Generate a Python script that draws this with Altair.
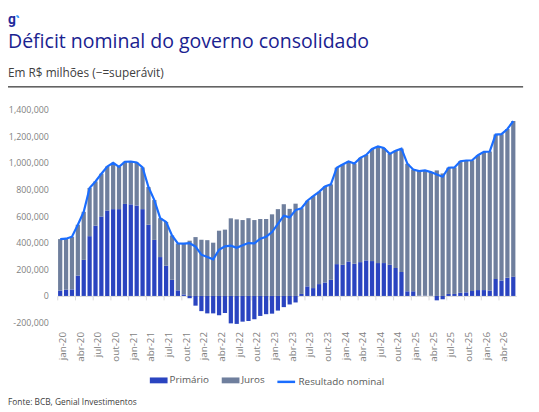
import altair as alt
import pandas as pd

# ---------------- data (R$ milhões, acumulado 12 meses) ----------------
nomes_meses = ["jan", "fev", "mar", "abr", "mai", "jun", "jul", "ago", "set", "out", "nov", "dez"]
meses = [f"{m}-{a}" for a in range(20, 27) for m in nomes_meses][:78]

primario = [
    41000, 47000, 49000, 153000, 271000, 449000, 528000, 597000, 641000, 652000, 652000, 691000,
    688000, 679000, 652000, 535000, 421000, 292000, 227000, 121000, 42000, 11000, -17000, -73000,
    -114000, -131000, -131000, -145000, -128000, -206000, -210000, -193000, -188000, -175000, -150000, -137000,
    -133000, -110000, -84000, -64000, -49000, 15000, 72000, 59000, 89000, 101000, 121000, 239000,
    234000, 259000, 242000, 254000, 267000, 262000, 247000, 247000, 234000, 210000, 180000, 35000,
    35000, 3000, 2000, 1000, -33000, -25000, 15000, 15000, 24000, 27000, 37000, 44000,
    44000, 41000, 128000, 116000, 136000, 145000,
]

juros = [
    386000, 383000, 396000, 382000, 361000, 362000, 332000, 321000, 331000, 348000, 318000, 317000,
    322000, 323000, 313000, 283000, 299000, 292000, 329000, 333000, 352000, 382000, 415000, 442000,
    422000, 419000, 400000, 490000, 498000, 583000, 575000, 570000, 584000, 570000, 578000, 578000,
    613000, 652000, 689000, 654000, 693000, 644000, 643000, 691000, 693000, 722000, 717000, 724000,
    753000, 751000, 752000, 783000, 792000, 842000, 876000, 864000, 833000, 881000, 926000, 958000,
    915000, 935000, 941000, 929000, 943000, 920000, 948000, 950000, 988000, 990000, 982000, 1013000,
    1038000, 1044000, 1084000, 1099000, 1118000, 1168000,
]

nominal = [
    427000, 430000, 445000, 535000, 632000, 811000, 860000, 918000, 972000, 1000000, 970000, 1008000,
    1010000, 1002000, 965000, 818000, 720000, 584000, 556000, 454000, 394000, 393000, 396000, 370000,
    310000, 292000, 275000, 347000, 372000, 378000, 362000, 380000, 397000, 395000, 430000, 445000,
    480000, 542000, 603000, 590000, 645000, 659000, 715000, 750000, 782000, 823000, 838000, 963000,
    987000, 1010000, 994000, 1037000, 1059000, 1104000, 1123000, 1111000, 1067000, 1091000, 1106000, 993000,
    950000, 938000, 943000, 930000, 912000, 895000, 963000, 965000, 1012000, 1017000, 1019000, 1057000,
    1082000, 1085000, 1212000, 1215000, 1254000, 1313000,
]

series_barras = ["Primário", "Juros"]
serie_linha = "Resultado nominal"
y_ticks = [-200000, 0, 200000, 400000, 600000, 800000, 1000000, 1200000, 1400000]

titulo = "Déficit nominal do governo consolidado"
subtitulo = "Em R$ milhões (\u2212=superávit)"
fonte = "Fonte: BCB, Genial Investimentos"

# ---------------- tables ----------------
barras = pd.DataFrame(
    [{"mes": m, "serie": "Primário", "ordem": 0, "valor": p} for m, p in zip(meses, primario)]
    + [{"mes": m, "serie": "Juros", "ordem": 1, "valor": j} for m, j in zip(meses, juros)]
)
linha = pd.DataFrame({"mes": meses, "serie": serie_linha, "valor": nominal})

FONT = "Open Sans"
W, H = 466, 219
Y_MIN, Y_MAX = -220000, 1400000
zero_px = H * Y_MAX / (Y_MAX - Y_MIN)

x_enc = alt.X(
    "mes:O",
    sort=meses,
    scale=alt.Scale(domain=meses, paddingInner=0.28, paddingOuter=0.14),
    axis=alt.Axis(
        values=meses[::3],
        title=None,
        labelAngle=-90,
        labelFont=FONT,
        labelFontSize=10,
        labelColor="#7f7f7f",
        domainColor="#d9d9d9",
        tickColor="#d9d9d9",
        tickSize=4,
        offset=-(H - zero_px),
        labelPadding=32,
        bandPosition=0,
        labelOffset=W / 78 * 0.5,
        grid=False,
    ),
)

y_scale = alt.Scale(domain=[Y_MIN, Y_MAX], nice=False, zero=False)
y_axis = alt.Axis(
    values=y_ticks,
    labelExpr="replace(format(datum.value, ','), '\u2212', '-')",
    labelOverlap=False,
    title=None,
    domain=False,
    ticks=False,
    tickSize=0,
    grid=False,
    labelPadding=9,
    labelFont=FONT,
    labelFontSize=9,
    labelColor="#7f7f7f",
)

bars = alt.Chart(barras).mark_bar(strokeWidth=0).encode(
    x=x_enc,
    y=alt.Y("valor:Q", stack="zero", scale=y_scale, axis=y_axis),
    color=alt.Color(
        "serie:N",
        scale=alt.Scale(domain=series_barras, range=["#2a44c0", "#6f7f9d"]),
        legend=alt.Legend(
            title=None,
            orient="none",
            legendX=94,
            legendY=266,
            direction="horizontal",
            symbolType="M-1,-0.33H1V0.33H-1Z",
            symbolSize=324,
            symbolStrokeWidth=0,
            labelFont=FONT,
            labelFontSize=10,
            labelColor="#595959",
            labelOffset=2,
            columnPadding=12,
        ),
    ),
    order=alt.Order("ordem:Q"),
)

line = alt.Chart(linha).mark_line(strokeWidth=2.2).encode(
    x=alt.X("mes:O", sort=meses),
    y=alt.Y("valor:Q", scale=y_scale, axis=y_axis),
    stroke=alt.Stroke(
        "serie:N",
        scale=alt.Scale(domain=[serie_linha], range=["#1a6dff"]),
        legend=alt.Legend(
            title=None,
            orient="none",
            legendX=222,
            legendY=266,
            direction="horizontal",
            symbolType="stroke",
            symbolSize=324,
            symbolStrokeWidth=2.5,
            labelFont=FONT,
            labelFontSize=10,
            labelColor="#595959",
            labelOffset=2,
        ),
    ),
)

one = pd.DataFrame({"k": [0]})

logo = alt.Chart(one).mark_text(
    text="g", font="Roboto", fontSize=14, fontWeight="bold", color="#1f2a9c",
    align="left", baseline="alphabetic",
).encode(x=alt.value(-50), y=alt.value(-87))

logo_dot = alt.Chart(one).mark_arc(
    color="#3d9bff", radius=3, radius2=1.2, theta=0, theta2=1.6,
).encode(x=alt.value(-41.5), y=alt.value(-93))

title_t = alt.Chart(one).mark_text(
    text=titulo, font=FONT, fontSize=19.8, color="#1a2290",
    align="left", baseline="alphabetic",
).encode(x=alt.value(-50), y=alt.value(-62))

sub_t = alt.Chart(one).mark_text(
    text=subtitulo, font=FONT, fontSize=12, color="#404040",
    align="left", baseline="alphabetic",
).encode(x=alt.value(-50), y=alt.value(-33))

sep = alt.Chart(one).mark_rule(color="#000000", strokeWidth=1).encode(
    x=alt.value(-50), x2=alt.value(473), y=alt.value(-23)
)

src_t = alt.Chart(one).mark_text(
    text=fonte, font=FONT, fontSize=8.5, color="#404040",
    align="left", baseline="alphabetic",
).encode(x=alt.value(-50), y=alt.value(300))

chart = alt.layer(bars, line, logo, logo_dot, title_t, sub_t, sep, src_t).resolve_scale(
    color="independent"
).properties(
    width=W,
    height=H,
    autosize=alt.AutoSizeParams(type="none"),
    padding={"left": 50, "top": 100, "right": 15, "bottom": 85},
    background="white",
).configure_view(stroke=None)

chart.save("out.html", embed_options={"renderer": "svg", "actions": False})
